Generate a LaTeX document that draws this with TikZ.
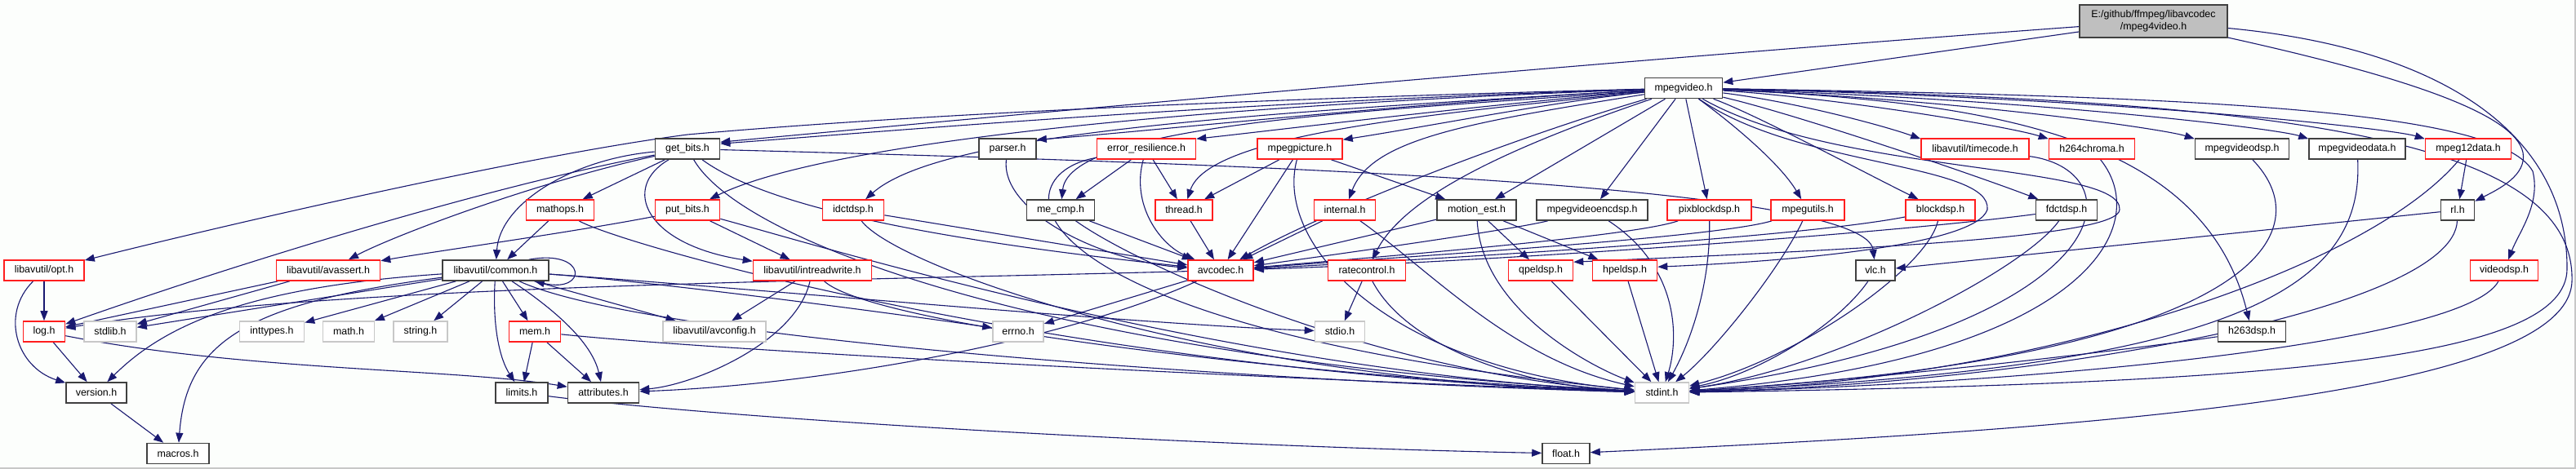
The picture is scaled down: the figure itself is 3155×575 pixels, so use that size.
\documentclass[tikz,border=0pt]{standalone}
\usepackage{fontspec}
\setmainfont{Liberation Sans}
\usetikzlibrary{arrows.meta}
\definecolor{edgec}{RGB}{25,25,112}
\definecolor{redc}{RGB}{255,30,30}
\definecolor{blkc}{RGB}{64,64,64}
\definecolor{gryc}{RGB}{200,200,200}
\definecolor{mainfill}{RGB}{191,191,191}
\definecolor{bgc}{RGB}{252,254,252}
\pgfdeclarelayer{bglayer}
\pgfdeclarelayer{edgelayer}
\pgfsetlayers{bglayer,edgelayer,main}
\begin{document}
\begin{tikzpicture}[x=1pt,y=-1pt,
 box/.style={rectangle, fill=white, line width=1.6pt, minimum height=25pt, inner xsep=2pt, inner ysep=0pt, font=\fontsize{12.4}{15}\selectfont, text=black},
 nb/.style={box, draw=blkc},
 nr/.style={box, draw=redc},
 ng/.style={box, draw=gryc},
 lk/.style={draw=edgec, line width=1.1pt, -{Triangle[length=12pt,width=9pt]}},
]
\useasboundingbox (0,0) rectangle (3155,575);
\begin{pgfonlayer}{bglayer}
\fill[bgc] (0,0) rectangle (3155,575);
\draw[gryc, line width=1.5pt] (0,574) -- (3154,574) -- (3154,0);
\end{pgfonlayer}

% nodes
\node[box, draw=blkc, fill=mainfill, minimum width=181pt, minimum height=40pt, align=center] (main) at (2637.5,26) {E:/github/ffmpeg/libavcodec\\/mpeg4video.h};
\node[nb, minimum width=95pt] (mpegvideo) at (2062,108) {mpegvideo.h};
% row 2
\node[nb, minimum width=79pt] (getbits) at (842,182.5) {get\_bits.h};
\node[nb, minimum width=70pt] (parser) at (1234,182.5) {parser.h};
\node[nr, minimum width=121pt] (errres) at (1404,182.5) {error\_resilience.h};
\node[nr, minimum width=104pt] (mpegpic) at (1592,182.5) {mpegpicture.h};
\node[nr, minimum width=132pt] (timecode) at (2419,182.5) {libavutil/timecode.h};
\node[nr, minimum width=105pt] (h264) at (2562,182.5) {h264chroma.h};
\node[nb, minimum width=115pt] (mvdsp) at (2746,182.5) {mpegvideodsp.h};
\node[nb, minimum width=118pt] (mvdata) at (2887,182.5) {mpegvideodata.h};
\node[nr, minimum width=105pt] (m12data) at (3023,182.5) {mpeg12data.h};
% row 3
\node[nr, minimum width=83pt] (mathops) at (686,257.5) {mathops.h};
\node[nr, minimum width=79pt] (putbits) at (842,257.5) {put\_bits.h};
\node[nr, minimum width=75pt] (idctdsp) at (1045,257.5) {idctdsp.h};
\node[nb, minimum width=83pt] (mecmp) at (1299,257.5) {me\_cmp.h};
\node[nr, minimum width=70pt] (thread) at (1450,257.5) {thread.h};
\node[nr, minimum width=75pt] (internal) at (1647,257.5) {internal.h};
\node[nb, minimum width=97pt] (motionest) at (1808.5,257.5) {motion\_est.h};
\node[nb, minimum width=136pt] (mvencdsp) at (1950,257.5) {mpegvideoencdsp.h};
\node[nr, minimum width=103pt] (pixblock) at (2093.5,257.5) {pixblockdsp.h};
\node[nr, minimum width=90pt] (mpegutils) at (2214,257.5) {mpegutils.h};
\node[nr, minimum width=85pt] (blockdsp) at (2376.5,257.5) {blockdsp.h};
\node[nb, minimum width=75pt] (fdctdsp) at (2531,257.5) {fdctdsp.h};
\node[nb, minimum width=41pt] (rl) at (3010,257.5) {rl.h};
% row 3b
\node[nr, minimum width=98pt] (opt) at (54,331.5) {libavutil/opt.h};
\node[nr, minimum width=127pt] (avassert) at (402,331.5) {libavutil/avassert.h};
\node[nb, minimum width=130pt] (common) at (607,331.5) {libavutil/common.h};
\node[nr, minimum width=145pt] (intrw) at (995,331.5) {libavutil/intreadwrite.h};
\node[nr, minimum width=80pt] (avcodec) at (1495,331.5) {avcodec.h};
\node[nr, minimum width=95pt] (ratectl) at (1674,331.5) {ratecontrol.h};
\node[nr, minimum width=79pt] (qpel) at (1887,331.5) {qpeldsp.h};
\node[nr, minimum width=79pt] (hpel) at (1990,331.5) {hpeldsp.h};
\node[nb, minimum width=48pt] (vlc) at (2297,331.5) {vlc.h};
\node[nr, minimum width=83pt] (videodsp) at (3067,331.5) {videodsp.h};
% row 4
\node[nr, minimum width=51pt] (log) at (54,406.5) {log.h};
\node[ng, minimum width=64pt] (stdlib) at (135,406.5) {stdlib.h};
\node[ng, minimum width=79pt] (inttypes) at (333,406.5) {inttypes.h};
\node[ng, minimum width=63pt] (math) at (427,406.5) {math.h};
\node[ng, minimum width=66pt] (string) at (515,406.5) {string.h};
\node[nr, minimum width=63pt] (mem) at (655,406.5) {mem.h};
\node[ng, minimum width=126pt] (avconfig) at (875,406.5) {libavutil/avconfig.h};
\node[ng, minimum width=62pt] (errno) at (1247,406.5) {errno.h};
\node[ng, minimum width=61pt] (stdio) at (1641,406.5) {stdio.h};
\node[nb, minimum width=83pt] (h263dsp) at (2758,406.5) {h263dsp.h};
% row 5
\node[nb, minimum width=74pt] (version) at (118,481.5) {version.h};
\node[nb, minimum width=64pt] (limits) at (639,481.5) {limits.h};
\node[nb, minimum width=87pt] (attributes) at (739,481.5) {attributes.h};
\node[ng, minimum width=66pt] (stdint) at (2035.5,481.5) {stdint.h};
% row 6
\node[nb, minimum width=76pt] (macros) at (218,556) {macros.h};
\node[nb, minimum width=58pt] (float) at (1918,556) {float.h};

% waypoints
\coordinate (rA) at (3144,330);
\coordinate (rB) at (3150,345);
\coordinate (lpA) at (2434,257);
\coordinate (lpB) at (2596,257);
\coordinate (wR) at (3090,187);
\coordinate (wV) at (3102,210);
\coordinate (wOpt) at (842,165);

\begin{pgfonlayer}{edgelayer}
% main
\draw[lk] (main) -- (mpegvideo);
\draw[lk] (main) .. controls (1900,80) and (1250,140) .. ([yshift=-5pt]getbits.north east);
\draw[lk] (main) .. controls (2950,95) and (3080,140) .. (wR) .. controls (3095,215) and (3060,232) .. (rl);
\draw[lk] (main) .. controls (3000,60) and (3145,170) .. (rA) .. controls (3143,440) and (2800,470) .. (stdint);
% mpegvideo
\draw[lk] (mpegvideo) .. controls (1500,125) and (1100,160) .. ([yshift=-7pt]getbits.north east);
\draw[lk] (mpegvideo) .. controls (1500,122) and (1100,142) .. (wOpt) .. controls (650,190) and (300,270) .. (opt);
\draw[lk] (mpegvideo) .. controls (1700,128) and (1400,162) .. ([yshift=-2pt]parser.north east);
\draw[lk] (mpegvideo) .. controls (1800,130) and (1560,160) .. ([yshift=-1pt]errres.north east);
\draw[lk] (mpegvideo) .. controls (1900,125) and (1750,155) .. ([yshift=-2pt]mpegpic.north east);
\draw[lk] (mpegvideo) .. controls (1400,132) and (1000,180) .. (putbits);
\draw[lk] (mpegvideo) .. controls (1500,140) and (1150,165) .. (idctdsp);
\draw[lk] (mpegvideo) .. controls (1700,135) and (1310,150) .. (mecmp);
\draw[lk] (mpegvideo) .. controls (1750,140) and (1480,165) .. (thread);
\draw[lk] (mpegvideo) .. controls (1800,150) and (1680,170) .. (internal);
\draw[lk] (mpegvideo) -- (motionest);
\draw[lk] (mpegvideo) -- (mvencdsp);
\draw[lk] (mpegvideo) -- (pixblock);
\draw[lk] (mpegvideo) .. controls (2120,150) and (2180,200) .. (mpegutils);
\draw[lk] (mpegvideo) .. controls (2150,140) and (2280,210) .. (blockdsp);
\draw[lk] (mpegvideo) .. controls (2200,140) and (2420,215) .. (fdctdsp);
\draw[lk] (mpegvideo) .. controls (2200,125) and (2310,155) .. ([yshift=-1pt]timecode.north west);
\draw[lk] (mpegvideo) .. controls (2250,120) and (2460,155) .. ([yshift=-1pt]h264.north west);
\draw[lk] (mpegvideo) .. controls (2400,122) and (2650,158) .. ([yshift=-1pt]mvdsp.north west);
\draw[lk] (mpegvideo) .. controls (2500,122) and (2790,158) .. ([yshift=-1pt]mvdata.north west);
\draw[lk] (mpegvideo) .. controls (2600,120) and (2930,158) .. ([yshift=-1pt]m12data.north west);
\draw[lk] (mpegvideo) .. controls (1850,180) and (1720,240) .. (ratectl);
\draw[lk] (mpegvideo) .. controls (1850,170) and (1620,260) .. (avcodec);
\draw[lk] (mpegvideo) .. controls (2200,205) and (2440,200) .. (lpA) .. controls (2420,300) and (2200,320) .. ([yshift=-9pt]hpel.north east);
\draw[lk] (mpegvideo) .. controls (2250,215) and (2600,200) .. (lpB) .. controls (2595,290) and (2300,305) .. ([yshift=-3pt]qpel.north east);
\draw[lk] (mpegvideo) .. controls (2450,125) and (2700,170) .. (h263dsp);
\draw[lk] (mpegvideo) .. controls (2700,118) and (3060,135) .. (wV) .. controls (3112,250) and (3085,285) .. (videodsp);
\draw[lk] (mpegvideo) .. controls (2800,122) and (3155,170) .. (rB) .. controls (3145,480) and (2600,525) .. (float);
% get_bits
\draw[lk] (getbits) -- (mathops);
\draw[lk] (getbits) .. controls (700,195) and (612,250) .. (common);
\draw[lk] (getbits) .. controls (760,230) and (790,300) .. (intrw);
\draw[lk] (getbits) .. controls (600,228) and (300,320) .. (log);
\draw[lk] (getbits) .. controls (650,225) and (480,290) .. (avassert);
\draw[lk] (getbits) .. controls (950,262) and (1200,300) .. (avcodec);
\draw[lk] (getbits) .. controls (910,300) and (1300,440) .. (stdint);
\draw[lk] (getbits) .. controls (1500,200) and (2285,225) .. (vlc);
% put_bits
\draw[lk] (putbits) .. controls (700,285) and (520,310) .. (avassert);
\draw[lk] (putbits) -- (intrw);
\draw[lk] (putbits) .. controls (1000,300) and (1500,455) .. (stdint);
% mathops
\draw[lk] (mathops) -- (common);
\draw[lk] (mathops) .. controls (760,300) and (1300,455) .. (stdint);
% idctdsp
\draw[lk] (idctdsp) -- (avcodec);
\draw[lk] (idctdsp) .. controls (1100,330) and (1500,468) .. (stdint);
% parser
\draw[lk] (parser) .. controls (1225,260) and (1350,320) .. (avcodec);
% me_cmp
\draw[lk] (mecmp) -- (avcodec);
\draw[lk] (mecmp) .. controls (1400,330) and (1700,460) .. (stdint);
% error_resilience
\draw[lk] (errres) -- (mecmp);
\draw[lk] (errres) -- (thread);
\draw[lk] (errres) .. controls (1385,250) and (1420,300) .. (avcodec);
\draw[lk] (errres) .. controls (1220,215) and (1230,400) .. (stdint);
% thread
\draw[lk] (thread) -- (avcodec);
% mpegpicture
\draw[lk] (mpegpic) -- (thread);
\draw[lk] (mpegpic) -- (avcodec);
\draw[lk] (mpegpic) -- (motionest);
\draw[lk] (mpegpic) .. controls (1560,300) and (1700,450) .. (stdint);
% internal
\draw[lk] (internal) -- (avcodec);
\draw[lk] (internal) .. controls (1750,330) and (1850,440) .. (stdint);
% motion_est
\draw[lk] (motionest) -- (avcodec);
\draw[lk] (motionest) -- (qpel);
\draw[lk] (motionest) -- (hpel);
\draw[lk] (motionest) .. controls (1815,380) and (1950,450) .. (stdint);
% mpegvideoencdsp
\draw[lk] (mvencdsp) .. controls (1850,282) and (1650,310) .. (avcodec);
\draw[lk] (mvencdsp) .. controls (2060,330) and (2055,420) .. (stdint);
% pixblockdsp
\draw[lk] (pixblock) .. controls (2000,290) and (1700,314) .. (avcodec);
\draw[lk] (pixblock) .. controls (2095,350) and (2070,420) .. (stdint);
% mpegutils
\draw[lk] (mpegutils) .. controls (2100,292) and (1700,316) .. (avcodec);
\draw[lk] (mpegutils) .. controls (2180,330) and (2100,430) .. (stdint);
% blockdsp
\draw[lk] (blockdsp) .. controls (2200,292) and (1750,318) .. (avcodec);
\draw[lk] (blockdsp) .. controls (2360,330) and (2200,440) .. (stdint);
% fdctdsp
\draw[lk] (fdctdsp) .. controls (2300,288) and (1800,322) .. (avcodec);
\draw[lk] (fdctdsp) .. controls (2480,330) and (2250,450) .. (stdint);
% ratecontrol
\draw[lk] (ratectl) -- (stdio);
\draw[lk] (ratectl) .. controls (1720,420) and (1850,472) .. (stdint);
% dsp
\draw[lk] (qpel) -- (stdint);
\draw[lk] (hpel) -- (stdint);
\draw[lk] (vlc) .. controls (2250,400) and (2150,460) .. (stdint);
\draw[lk] (rl) -- (vlc);
\draw[lk] (rl) .. controls (3005,380) and (2500,470) .. (stdint);
\draw[lk] (m12data) -- (rl);
\draw[lk] (m12data) .. controls (2900,330) and (2500,465) .. (stdint);
\draw[lk] (mvdsp) .. controls (2850,290) and (2750,440) .. (stdint);
\draw[lk] (mvdata) .. controls (2895,350) and (2750,450) .. (stdint);
\draw[lk] (h264) .. controls (2640,280) and (2550,440) .. (stdint);
\draw[lk] (timecode) .. controls (2620,210) and (2600,400) .. (stdint);
\draw[lk] (videodsp) .. controls (3020,420) and (2500,470) .. (stdint);
\draw[lk] (h263dsp) .. controls (2600,430) and (2300,465) .. (stdint);
% common
\draw[lk] ([xshift=-25pt]common.north east) .. controls (720,305) and (720,360) .. ([xshift=-18pt]common.south east);
\draw[lk] (common) -- (stdlib);
\draw[lk] (common) -- (inttypes);
\draw[lk] (common) -- (math);
\draw[lk] (common) -- (string);
\draw[lk] (common) -- (mem);
\draw[lk] (common) .. controls (603,400) and (612,440) .. (limits);
\draw[lk] (common) .. controls (680,380) and (725,420) .. (attributes);
\draw[lk] (common) -- (avconfig);
\draw[lk] (common) .. controls (300,352) and (200,400) .. (version);
\draw[lk] (common) .. controls (300,372) and (228,420) .. (macros);
\draw[lk] (common) .. controls (800,345) and (1100,385) .. (errno);
\draw[lk] (common) .. controls (900,352) and (1400,398) .. (stdio);
\draw[lk] (common) .. controls (800,420) and (1600,470) .. (stdint);
% mem
\draw[lk] (mem) -- (limits);
\draw[lk] (mem) -- (attributes);
\draw[lk] (mem) .. controls (900,432) and (1600,466) .. (stdint);
% intreadwrite
\draw[lk] (intrw) -- (avconfig);
\draw[lk] (intrw) .. controls (975,420) and (850,472) .. (attributes);
\draw[lk] (intrw) .. controls (1070,400) and (1600,462) .. (stdint);
% avassert
\draw[lk] (avassert) -- (log);
\draw[lk] (avassert) -- (stdlib);
% avcodec
\draw[lk] (avcodec) -- (errno);
\draw[lk] (avcodec) .. controls (1300,420) and (1000,472) .. (attributes);
\draw[lk] (avcodec) .. controls (1000,345) and (400,350) .. (log);
% opt, log, version, limits
\draw[lk] (opt) -- (log);
\draw[lk] (opt) .. controls (0,385) and (20,450) .. (version);
\draw[lk] (log) -- (version);
\draw[lk] (log) .. controls (300,455) and (560,452) .. (attributes);
\draw[lk] (version) -- (macros);
\draw[lk] (limits) .. controls (900,515) and (1500,548) .. (float);
\end{pgfonlayer}
\end{tikzpicture}
\end{document}
